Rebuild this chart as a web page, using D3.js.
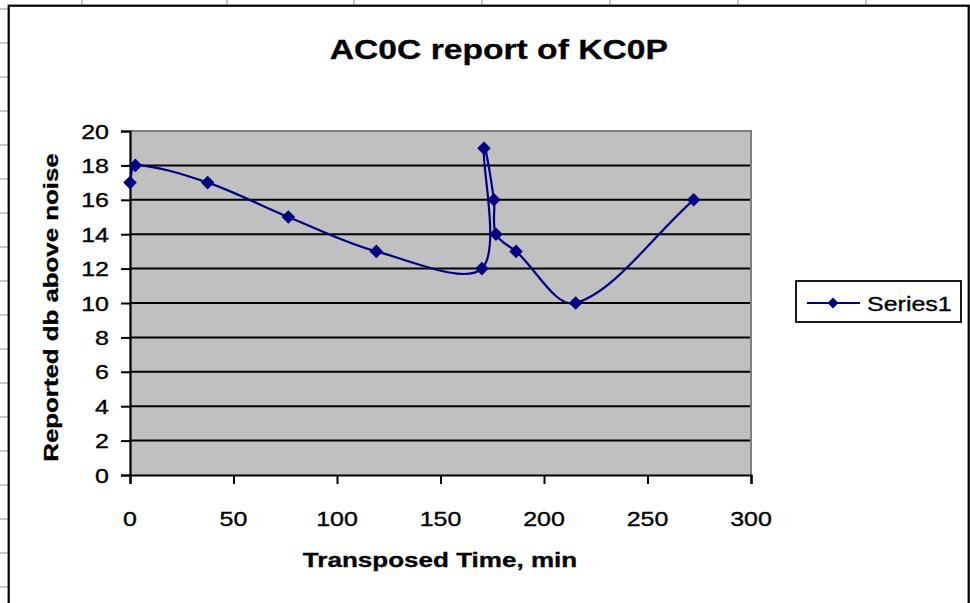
<!DOCTYPE html>
<html>
<head>
<meta charset="utf-8">
<script src="https://cdn.jsdelivr.net/npm/d3@7"></script>
<style>
  html, body { margin: 0; padding: 0; background: #fff; }
  svg { display: block; font-family: "Liberation Sans", Arial, sans-serif; }
</style>
</head>
<body>
<svg id="chart" width="970" height="603"></svg>
<script>
// ---- data ----
const title = "AC0C report of KC0P";
const xTitle = "Transposed Time, min";
const yTitle = "Reported db above noise";
const seriesName = "Series1";
const timeMin = [0, 2.6, 37.5, 76.5, 119, 170, 171, 175.8, 176.8, 186.5, 215.3, 272.3];
const dbAboveNoise = [17, 18, 17, 15, 13, 12, 19, 16, 14, 13, 10, 16];
const xTicks = [0, 50, 100, 150, 200, 250, 300];
const yTicks = [0, 2, 4, 6, 8, 10, 12, 14, 16, 18, 20];
const sheetRows = [9, 43, 77, 111, 145, 179, 213, 247, 281, 315, 349, 383, 417, 451, 485, 519, 553, 587];
const sheetCols = [82, 227, 354, 482, 610, 738, 866];

const svg = d3.select("#chart");
const STRETCH = 1.25;

// Excel-like smoothed line: chord-weighted Catmull-Rom Bezier
function curveExcel(context) {
  let p = [];
  return {
    areaStart() {}, areaEnd() {},
    lineStart() { p = []; },
    point(x, y) { p.push([+x, +y]); },
    lineEnd() {
      const n = p.length;
      if (!n) return;
      const dist = (a, b) => Math.hypot(b[0] - a[0], b[1] - a[1]);
      context.moveTo(p[0][0], p[0][1]);
      for (let i = 0; i < n - 1; i++) {
        const P0 = p[i - 1] || p[i], P1 = p[i], P2 = p[i + 1], P3 = p[i + 2] || p[i + 1];
        const d01 = dist(P0, P1), d12 = dist(P1, P2), d23 = dist(P2, P3);
        const a1 = (d01 + d12) > 0 ? d12 / (d01 + d12) / 3 : 0;
        const a2 = (d12 + d23) > 0 ? d12 / (d12 + d23) / 3 : 0;
        context.bezierCurveTo(
          P1[0] + (P2[0] - P0[0]) * a1, P1[1] + (P2[1] - P0[1]) * a1,
          P2[0] - (P3[0] - P1[0]) * a2, P2[1] - (P3[1] - P1[1]) * a2,
          P2[0], P2[1]);
      }
    }
  };
}

// ---- spreadsheet background ----
svg.append("rect").attr("width", 970).attr("height", 603).attr("fill", "#fff");
svg.selectAll("line.row").data(sheetRows).enter().append("line")
  .attr("x1", 0).attr("x2", 9).attr("y1", d => d).attr("y2", d => d)
  .attr("stroke", "#c8c8c8").attr("stroke-width", 2);
svg.selectAll("line.col").data(sheetCols).enter().append("line")
  .attr("x1", d => d).attr("x2", d => d).attr("y1", 0).attr("y2", 6)
  .attr("stroke", "#c8c8c8").attr("stroke-width", 2);

// chart area border
svg.append("rect").attr("x", 8.7).attr("y", 5.7).attr("width", 960).attr("height", 700)
  .attr("fill", "#fff").attr("stroke", "#000").attr("stroke-width", 2.2);

// ---- scales ----
const x = d3.scaleLinear().domain([0, 300]).range([130, 751]);
const y = d3.scaleLinear().domain([0, 20]).range([475, 131]);

function stretchedText(g, txt, tx, ty, opts) {
  return g.append("text")
    .attr("transform", `translate(${tx},${ty})` + (opts.rotate ? ` rotate(${opts.rotate})` : "") + ` scale(${opts.sx || STRETCH},1)`)
    .attr("text-anchor", opts.anchor || "middle")
    .attr("font-size", opts.size)
    .attr("font-weight", opts.weight || "normal")
    .attr("fill", "#000")
    .attr("stroke", "#000")
    .attr("stroke-width", opts.sw != null ? opts.sw : 0.35)
    .text(txt);
}

// plot area
svg.append("rect")
  .attr("x", x(0)).attr("y", y(20)).attr("width", x(300) - x(0)).attr("height", y(0) - y(20))
  .attr("fill", "#c0c0c0");

// gridlines
svg.selectAll("line.grid").data(yTicks.filter(v => v > 0 && v < 20)).enter().append("line")
  .attr("x1", x(0)).attr("x2", x(300)).attr("y1", d => y(d)).attr("y2", d => y(d))
  .attr("stroke", "#000").attr("stroke-width", 2);

// plot area gray border top & right
svg.append("path")
  .attr("d", `M${x(0)},${y(20)} H${x(300)} V${y(0)}`)
  .attr("fill", "none").attr("stroke", "#808080").attr("stroke-width", 2);

// axes
const yAxis = d3.axisLeft(y).tickValues(yTicks).tickSize(9).tickFormat("");
const gy = svg.append("g").attr("transform", `translate(${x(0)},0)`).call(yAxis);
const xAxis = d3.axisBottom(x).tickValues(xTicks).tickSize(9).tickFormat("");
const gx = svg.append("g").attr("transform", `translate(0,${y(0)})`).call(xAxis);
[gx, gy].forEach(g => {
  g.selectAll("path.domain").attr("stroke", "#000").attr("stroke-width", 2.2);
  g.selectAll(".tick line").attr("stroke", "#000").attr("stroke-width", 2);
});

// tick labels
yTicks.forEach(v => stretchedText(svg, String(v), 109, y(v) + 7.5, { anchor: "end", size: 20.5, sx: 1.22 }));
xTicks.forEach(v => stretchedText(svg, String(v), x(v), 525.5, { anchor: "middle", size: 20.5, sx: 1.22 }));

// titles
stretchedText(svg, title, 498.8, 58.5, { size: 28.5, weight: "bold", sx: 1.18, sw: 0.3 });
stretchedText(svg, xTitle, 440, 567, { size: 20.5, weight: "bold", sx: 1.27, sw: 0.3 });
stretchedText(svg, yTitle, 57.5, 307.5, { size: 20.5, weight: "bold", sx: 1.26, rotate: -90, sw: 0.3 });

// series line
const pts = timeMin.map((t, i) => [t, dbAboveNoise[i]]);
const line = d3.line().x(d => x(d[0])).y(d => y(d[1])).curve(curveExcel);
svg.append("path").datum(pts).attr("d", line)
  .attr("fill", "none").attr("stroke", "#000080").attr("stroke-width", 2.2)
  .attr("stroke-linejoin", "round");

const diamond = r => `M0,${-r}L${r},0L0,${r}L${-r},0Z`;
svg.selectAll("path.mk").data(pts).enter().append("path")
  .attr("class", "mk")
  .attr("transform", d => `translate(${x(d[0])},${y(d[1])})`)
  .attr("d", diamond(6.8))
  .attr("fill", "#000080");

// legend
const lg = svg.append("g");
lg.append("rect").attr("x", 796).attr("y", 281).attr("width", 165).attr("height", 41)
  .attr("fill", "#fff").attr("stroke", "#000").attr("stroke-width", 1.8);
lg.append("line").attr("x1", 807).attr("x2", 860).attr("y1", 303).attr("y2", 303)
  .attr("stroke", "#000080").attr("stroke-width", 2.2);
lg.append("path").attr("transform", "translate(833,303)").attr("d", diamond(5.5)).attr("fill", "#000080");
stretchedText(lg, seriesName, 867, 310.5, { anchor: "start", size: 20.5, sx: 1.22 });
</script>
</body>
</html>
